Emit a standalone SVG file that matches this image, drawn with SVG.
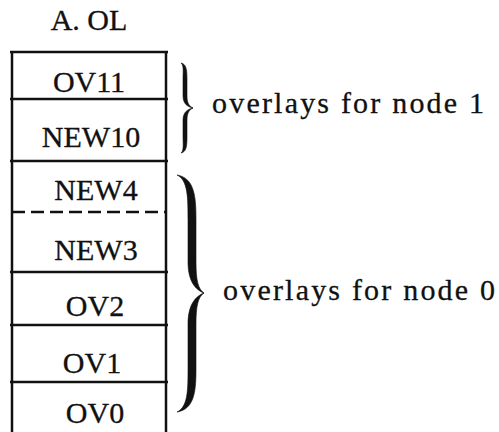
<svg xmlns="http://www.w3.org/2000/svg" width="499" height="432" viewBox="0 0 499 432">
  <style>
    .t { font-family: 'Liberation Serif', 'DejaVu Serif', 'Times New Roman', serif; font-size: 30px; fill: #111; stroke: #111; stroke-width: 0.3; }
    .c { text-anchor: middle; }
    .rule { stroke: #111; stroke-width: 2.5; fill: none; }
    .dash { stroke: #111; stroke-width: 2.5; fill: none; stroke-dasharray: 13 6; }
    .brace { fill: #111; stroke: #111; stroke-width: 0.6; stroke-linejoin: round; }
  </style>

  <rect width="499" height="432" fill="#fff"/>

  <!-- file name above the overlay table -->
  <text class="t c" x="89" y="30">A. OL</text>

  <!-- table frame (open at the bottom) -->
  <g id="frame">
    <line class="rule" x1="12" y1="51" x2="12" y2="433"/>
    <line class="rule" x1="166" y1="51" x2="166" y2="433"/>
    <line class="rule" x1="10" y1="52" x2="168" y2="52"/>
  </g>

  <g id="cell-ov11">
    <text class="t c" x="89" y="92">OV11</text>
    <line class="rule" x1="10" y1="99" x2="168" y2="99"/>
  </g>
  <g id="cell-new10">
    <text class="t c" x="91" y="147">NEW10</text>
    <line class="rule" x1="10" y1="161" x2="168" y2="161"/>
  </g>
  <g id="cell-new4">
    <text class="t c" x="96" y="200">NEW4</text>
    <line class="dash" x1="12" y1="212" x2="166" y2="212"/>
  </g>
  <g id="cell-new3">
    <text class="t c" x="96" y="260">NEW3</text>
    <line class="rule" x1="10" y1="272" x2="168" y2="272"/>
  </g>
  <g id="cell-ov2">
    <text class="t c" x="95" y="316">OV2</text>
    <line class="rule" x1="10" y1="325" x2="168" y2="325"/>
  </g>
  <g id="cell-ov1">
    <text class="t c" x="92" y="373">OV1</text>
    <line class="rule" x1="10" y1="382" x2="168" y2="382"/>
  </g>
  <g id="cell-ov0">
    <text class="t c" x="95" y="423">OV0</text>
  </g>

  <!-- braces grouping the cells -->
  <g id="braces">
    <!-- node 1: rows OV11..NEW10 -->
    <path class="brace" d="M181,63 C187,64 187,72 187,80 L187,96 C187,103 189,106 193,108
                           C188,107 183,104 183,96 L183,80 C183,72 184,65 181,63 Z"/>
    <path class="brace" d="M181,153 C187,152 187,144 187,136 L187,120 C187,113 189,110 193,108
                           C188,109 183,112 183,120 L183,136 C183,144 184,151 181,153 Z"/>
    <!-- node 0: rows NEW4..OV0 -->
    <path class="brace" d="M177,175 C195,178 196,198 196,220 L196,262 C196,280 198,289 204,293
                           C196,290 188,282 188,262 L188,220 C188,198 188,180 177,175 Z"/>
    <path class="brace" d="M177,412 C195,409 196,390 196,368 L196,324 C196,306 198,297 204,293
                           C196,296 188,304 188,324 L188,368 C188,390 188,407 177,412 Z"/>
  </g>

  <g id="label-node1">
    <text class="t" x="212" y="113" textLength="272" lengthAdjust="spacing">overlays for node 1</text>
  </g>
  <g id="label-node0">
    <text class="t" x="223" y="300" textLength="272" lengthAdjust="spacing">overlays for node 0</text>
  </g>
</svg>
